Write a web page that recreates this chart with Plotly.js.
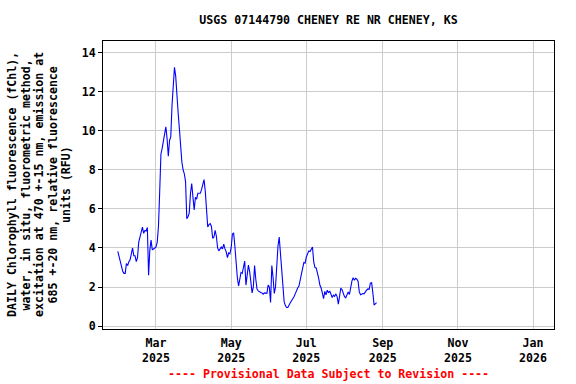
<!DOCTYPE html>
<html><head><meta charset="utf-8">
<script src="https://cdn.plot.ly/plotly-3.0.1.min.js"></script>
<style>html,body{margin:0;padding:0;background:#fff}#chart{width:576px;height:384px}</style>
</head><body><div id="chart"></div>
<script>
const startDate = '2025-01-29';
const fchl = [
3.83,3.58,3.2,2.95,2.8,2.7,2.7,3.2,3.1,3.3,
3.4,3.7,4.0,3.6,3.6,3.3,3.5,4.3,4.6,4.85,
5.07,4.75,4.9,4.87,5.05,2.6,3.9,4.4,3.9,3.95,
4.0,4.05,4.3,5.1,6.86,8.8,9.1,9.5,9.9,10.2,
9.6,8.7,9.5,9.7,11.3,12.5,13.25,12.8,11.5,10.9,
10.1,9.1,8.4,8.0,7.8,7.4,5.5,5.6,5.8,6.8,
7.3,6.6,5.95,6.6,6.5,6.8,6.78,6.8,7.0,7.3,
7.5,6.9,6.1,5.07,5.2,5.25,5.1,4.5,4.55,4.9,
4.6,4.0,3.85,3.95,4.05,3.95,4.2,3.95,3.8,3.5,
3.75,3.7,4.0,4.7,4.78,4.1,2.95,2.5,2.05,2.4,
2.75,2.7,2.95,3.33,2.1,2.8,3.12,2.8,2.2,1.7,
2.0,3.1,2.4,1.9,1.8,1.75,1.72,1.7,1.63,1.7,
1.7,1.68,2.1,2.0,1.21,3.1,2.5,1.67,2.0,3.2,
4.1,4.56,3.7,2.7,1.7,1.25,1.05,0.95,0.95,1.12,
1.19,1.3,1.38,1.5,1.65,1.85,1.95,2.05,2.3,2.7,
2.95,3.25,3.22,3.54,3.75,3.85,3.82,3.92,4.05,3.3,
3.0,2.98,2.75,2.45,2.1,1.95,1.7,1.4,1.78,1.6,
1.84,1.7,1.8,1.6,1.46,1.58,1.52,1.65,1.5,1.12,
1.7,1.95,1.86,1.7,1.5,1.45,1.62,1.75,1.62,2.0,
2.3,2.48,2.35,2.45,2.4,2.3,1.75,1.6,1.65,1.67,
1.66,1.78,1.85,1.9,1.88,2.2,2.22,1.7,1.08,1.14,
1.2
];
const tickDates = ['2025-03-01','2025-05-01','2025-07-01','2025-09-01','2025-11-01','2026-01-01'];
const tickLabels = ['Mar<br>2025','May<br>2025','Jul<br>2025','Sep<br>2025','Nov<br>2025','Jan<br>2026'];
const yTicks = [0,2,4,6,8,10,12,14];
const titleText = 'USGS 07144790 CHENEY RE NR CHENEY, KS';
const yTitleLines = [
 'DAILY Chlorophyll fluorescence (fChl),',
 'water, in situ, fluorometric method,',
 'excitation at 470 +-15 nm, emission at',
 '685 +-20 nm, relative fluorescence',
 'units (RFU)'
];
const footerText = '---- Provisional Data Subject to Revision ----';

const dates = fchl.map((_, i) => {
  const d = new Date(startDate + 'T00:00:00Z');
  d.setUTCDate(d.getUTCDate() + i);
  return d.toISOString().slice(0, 10);
});

const FONT = 'DejaVu Sans Mono';
const FS = 11.6;
const baseFont = {family: FONT, size: FS, color: '#000', weight: 'bold'};

const lineX = [-91, -77.5, -64, -50.5, -37];
const annotations = yTitleLines.map((t, i) => ({
  text: t, xref: 'paper', yref: 'paper', x: 0, y: 0.5, xshift: lineX[i],
  xanchor: 'center', yanchor: 'middle', textangle: -90, showarrow: false,
  font: baseFont
}));
annotations.push({
  text: footerText, xref: 'paper', yref: 'paper', x: 0.5, y: -0.156,
  xanchor: 'center', yanchor: 'middle', showarrow: false,
  font: {family: FONT, size: FS, color: '#ff0000', weight: 'bold'}
});

const trace = {
  x: dates, y: fchl, type: 'scatter', mode: 'lines',
  line: {color: '#0000ff', width: 1.1}, hoverinfo: 'skip'
};

const layout = {
  width: 576, height: 384,
  margin: {l: 103, r: 22, t: 41, b: 55, pad: 0},
  paper_bgcolor: '#fff', plot_bgcolor: '#fff',
  showlegend: false,
  title: {text: titleText, font: baseFont, x: 0.5, xref: 'paper', y: 1 - 20/384, yref: 'container', yanchor: 'middle', xanchor: 'center'},
  xaxis: {
    type: 'date', range: ['2025-01-17', '2026-01-18'],
    tickvals: tickDates, ticktext: tickLabels, tickfont: baseFont,
    ticklabelstandoff: 3,
    showgrid: true, gridcolor: '#cccccc', gridwidth: 1,
    showline: true, linecolor: '#000', linewidth: 1, mirror: true,
    ticks: '', zeroline: false, fixedrange: true
  },
  yaxis: {
    range: [-0.15, 14.6], tickvals: yTicks, ticktext: yTicks.map(String), tickfont: baseFont,
    showgrid: true, gridcolor: '#cccccc', gridwidth: 1,
    showline: true, linecolor: '#000', linewidth: 1, mirror: true,
    ticks: 'outside', ticklen: 4, tickcolor: '#000', zeroline: false, fixedrange: true
  },
  annotations: annotations
};

Plotly.newPlot('chart', [trace], layout, {staticPlot: true, displayModeBar: false});
</script></body></html>
